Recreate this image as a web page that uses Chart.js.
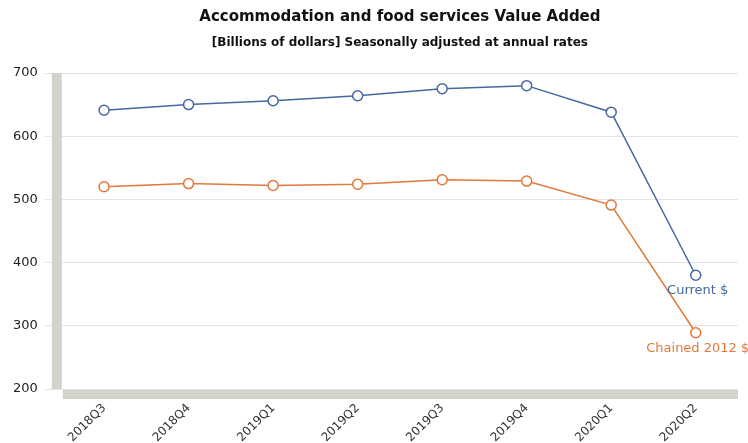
<!DOCTYPE html>
<html>
<head>
<meta charset="utf-8">
<script src="https://cdn.jsdelivr.net/npm/chart.js@4/dist/chart.umd.min.js"></script>
<style>
  html, body { margin: 0; padding: 0; background: #fff; }
  #wrap { width: 748px; height: 443px; }
</style>
</head>
<body>
<div id="wrap"><canvas id="myChart" width="748" height="443"></canvas></div>
<script>
// quarters along the x axis
let quarters = ['2018Q3', '2018Q4', '2019Q1', '2019Q2', '2019Q3', '2019Q4', '2020Q1', '2020Q2'];

// value added, billions of dollars (SAAR)
let currentDollars = [641, 650, 656, 664, 675, 680, 638, 380];
let chained2012 = [520, 525, 522, 524, 531, 529, 491, 289];

let yTicks = [200, 300, 400, 500, 600, 700];

let titleText = 'Accommodation and food services Value Added';
let subtitleText = '[Billions of dollars] Seasonally adjusted at annual rates';

let blue = '#46689f';
let orange = '#e4773a';

// titles centered over the plot, grey "floor" bands, and end-of-line labels
let decorations = {
    id: 'decorations',
    beforeDatasetsDraw(chart) {
        let ctx = chart.ctx;
        let a = chart.chartArea;
        ctx.save();
        ctx.fillStyle = '#d3d3cb';
        ctx.fillRect(a.left - 10, a.top, 10, a.bottom - a.top);
        ctx.fillRect(a.left + 1, a.bottom + 1, a.right - a.left - 1, 9);
        ctx.restore();
    },
    afterDraw(chart) {
        let ctx = chart.ctx;
        let a = chart.chartArea;
        let cx = (a.left + a.right) / 2;
        ctx.save();
        ctx.textAlign = 'center';
        ctx.textBaseline = 'middle';
        ctx.fillStyle = '#111';
        ctx.font = 'bold 15px "DejaVu Sans"';
        ctx.fillText(titleText, cx, 17);
        ctx.font = 'bold 12px "DejaVu Sans"';
        ctx.fillText(subtitleText, cx, 43);

        // series names under the last point of each line
        ctx.font = '13px "DejaVu Sans"';
        ctx.textBaseline = 'top';
        let names = ['Current $', 'Chained 2012 $'];
        chart.data.datasets.forEach((ds, i) => {
            let meta = chart.getDatasetMeta(i);
            let last = meta.data[meta.data.length - 1];
            ctx.fillStyle = ds.borderColor;
            ctx.fillText(names[i], last.x + 2, last.y + 9);
        });
        ctx.restore();
    }
};

let myChart = document.getElementById('myChart').getContext('2d');

let valueAddedChart = new Chart(myChart, {
    type: 'line',
    data: {
        labels: quarters,
        datasets: [{
            label: 'Current $',
            data: currentDollars,
            borderColor: blue,
            backgroundColor: '#fff',
            borderWidth: 1.5,
            pointRadius: 5,
            pointBorderWidth: 1.5,
            pointBackgroundColor: '#fff',
            tension: 0
        }, {
            label: 'Chained 2012 $',
            data: chained2012,
            borderColor: orange,
            backgroundColor: '#fff',
            borderWidth: 1.5,
            pointRadius: 5,
            pointBorderWidth: 1.5,
            pointBackgroundColor: '#fff',
            tension: 0
        }]
    },
    options: {
        responsive: false,
        animation: false,
        layout: {
            padding: { top: 73, right: 10, left: 6, bottom: 0 }
        },
        plugins: {
            legend: { display: false },
            title: { display: false },
            tooltip: { enabled: false }
        },
        scales: {
            x: {
                offset: true,
                grid: { display: false },
                border: { display: false },
                afterFit(axis) {
                    axis.height = 54;
                },
                ticks: {
                    color: '#333',
                    font: { family: 'DejaVu Sans', size: 12 },
                    maxRotation: 45,
                    minRotation: 45,
                    padding: 4
                }
            },
            y: {
                min: 200,
                max: 700,
                afterBuildTicks(axis) {
                    axis.ticks = yTicks.map(v => ({ value: v }));
                },
                grid: {
                    color: '#e4e4e4',
                    tickLength: 17,
                    tickColor: '#e4e4e4'
                },
                border: { display: false },
                ticks: {
                    color: '#222',
                    padding: 7,
                    font: { family: 'DejaVu Sans', size: 13 }
                }
            }
        }
    },
    plugins: [decorations]
});
</script>
</body>
</html>
